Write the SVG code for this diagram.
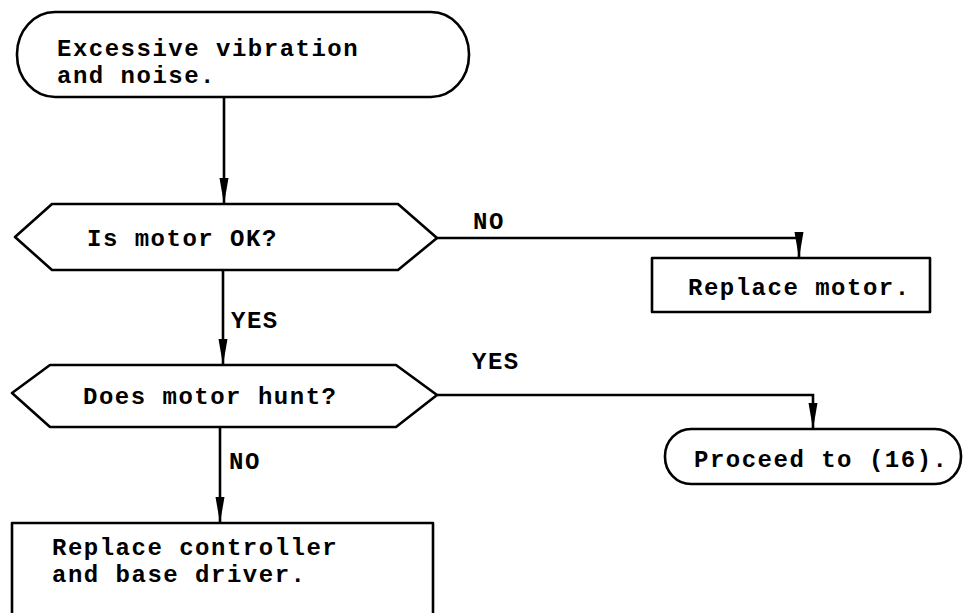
<svg xmlns="http://www.w3.org/2000/svg" width="964" height="613" viewBox="0 0 964 613">
  <style>
    .shape { fill: #ffffff; stroke: #000000; stroke-width: 2.6; stroke-linejoin: round; }
    .wire { fill: none; stroke: #000000; stroke-width: 2.6; }
    text { font-family: "Liberation Mono", "DejaVu Sans Mono", monospace; font-size: 24px; letter-spacing: 1.5px; font-weight: bold; fill: #000000; }
  </style>
  <defs>
    <marker id="arrow" markerUnits="userSpaceOnUse" markerWidth="26" markerHeight="10" refX="26" refY="5" orient="auto" viewBox="0 0 26 10">
      <path d="M0,0.5 L26,5 L0,9.5 z" fill="#000000"/>
    </marker>
  </defs>
  <rect width="964" height="613" fill="#ffffff"/>

  <!-- connectors -->
  <g id="connectors">
    <path class="wire" d="M224,97 L224,204" marker-end="url(#arrow)"/>
    <path class="wire" d="M437,238 L799,238 L799,258" marker-end="url(#arrow)"/>
    <path class="wire" d="M223,270 L223,365" marker-end="url(#arrow)"/>
    <path class="wire" d="M437,395 L813,395 L813,429" marker-end="url(#arrow)"/>
    <path class="wire" d="M220,427 L220,523" marker-end="url(#arrow)"/>
    <text x="473" y="229">NO</text>
    <text x="231" y="328">YES</text>
    <text x="472" y="369">YES</text>
    <text x="229" y="469">NO</text>
  </g>

  <!-- start terminator -->
  <g id="start">
    <rect class="shape" x="17" y="12" width="452" height="85" rx="38" ry="42"/>
    <text x="57" y="56">Excessive vibration</text>
    <text x="57" y="83">and noise.</text>
  </g>

  <!-- decision: motor condition -->
  <g id="motor-ok">
    <polygon class="shape" points="15,237 52,204 398,204 437,238 398,270 52,270"/>
    <text x="87" y="246">Is motor OK?</text>
  </g>

  <g id="replace-motor">
    <rect class="shape" x="652" y="258" width="278" height="54"/>
    <text x="688" y="295">Replace motor.</text>
  </g>

  <!-- decision: hunting -->
  <g id="motor-hunt">
    <polygon class="shape" points="12,393 50,365 396,365 437,395 396,427 50,427"/>
    <text x="83" y="404">Does motor hunt?</text>
  </g>

  <g id="proceed">
    <rect class="shape" x="665" y="429" width="296" height="55" rx="26" ry="27"/>
    <text x="694" y="467">Proceed to (16).</text>
  </g>

  <g id="replace-controller">
    <rect class="shape" x="12" y="523" width="421" height="110"/>
    <text x="52" y="555">Replace controller</text>
    <text x="52" y="582">and base driver.</text>
  </g>
</svg>
